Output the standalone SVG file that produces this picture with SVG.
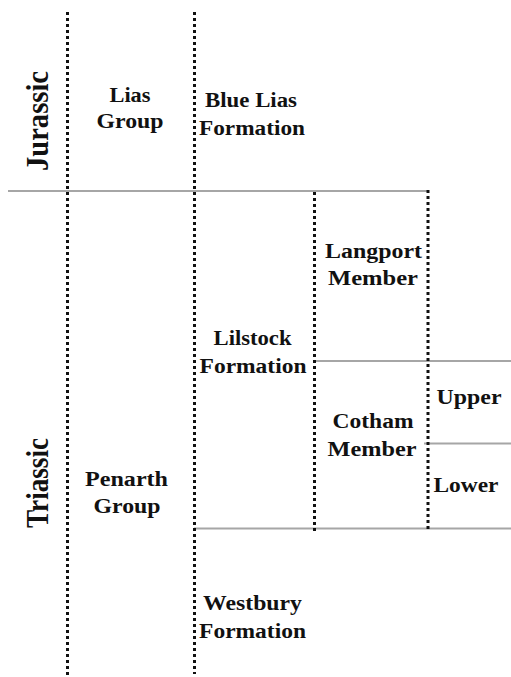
<svg xmlns="http://www.w3.org/2000/svg" width="511" height="677" viewBox="0 0 511 677">
  <style>
    .bg { fill: #ffffff; }
    .dot { stroke: #111111; stroke-width: 3; stroke-dasharray: 3 3; fill: none; }
    .rule { stroke: #a6a6a6; stroke-width: 2; fill: none; }
    .lbl { font-family: "Liberation Serif", "Times New Roman", serif; font-weight: bold; font-size: 20px; fill: #111111; text-anchor: middle; }
    .era { font-family: "Liberation Serif", "Times New Roman", serif; font-weight: bold; font-size: 27px; fill: #111111; text-anchor: middle; }
  </style>
  <rect class="bg" x="0" y="0" width="511" height="677"/>

  <!-- boundaries between units -->
  <g id="connectors">
    <line class="rule" x1="8" y1="191" x2="428" y2="191"/>
    <line class="rule" x1="314" y1="361" x2="511" y2="361"/>
    <line class="rule" x1="424" y1="443.5" x2="511" y2="443.5"/>
    <line class="rule" x1="194" y1="528.5" x2="511" y2="528.5"/>
    <line class="dot" x1="67.5" y1="12" x2="67.5" y2="676"/>
    <line class="dot" x1="194.5" y1="12" x2="194.5" y2="674"/>
    <line class="dot" x1="314.5" y1="192" x2="314.5" y2="531"/>
    <line class="dot" x1="428" y1="190" x2="428" y2="529"/>
  </g>

  <!-- periods (vertical, read bottom to top) -->
  <g id="jurassic">
    <text class="era" transform="translate(48,121) scale(1.15,1) rotate(-90)" textLength="100" lengthAdjust="spacingAndGlyphs">Jurassic</text>
  </g>
  <g id="triassic">
    <text class="era" transform="translate(48,483) scale(1.15,1) rotate(-90)" textLength="90" lengthAdjust="spacingAndGlyphs">Triassic</text>
  </g>

  <!-- labels are set in wide bold serif: each line is stretched 1.15x horizontally -->
  <g id="lias-group">
    <text class="lbl" transform="translate(130,102) scale(1.15,1)" textLength="35.7" lengthAdjust="spacingAndGlyphs">Lias</text>
    <text class="lbl" transform="translate(130,128) scale(1.15,1)" textLength="58.3" lengthAdjust="spacingAndGlyphs">Group</text>
  </g>
  <g id="penarth-group">
    <text class="lbl" transform="translate(126.5,486) scale(1.15,1)" textLength="72.2" lengthAdjust="spacingAndGlyphs">Penarth</text>
    <text class="lbl" transform="translate(127,513) scale(1.15,1)" textLength="58.3" lengthAdjust="spacingAndGlyphs">Group</text>
  </g>

  <g id="blue-lias-formation">
    <text class="lbl" transform="translate(251,107) scale(1.15,1)" textLength="80" lengthAdjust="spacingAndGlyphs">Blue Lias</text>
    <text class="lbl" transform="translate(252,135) scale(1.15,1)" textLength="92.2" lengthAdjust="spacingAndGlyphs">Formation</text>
  </g>
  <g id="lilstock-formation">
    <text class="lbl" transform="translate(252.5,345) scale(1.15,1)" textLength="67.8" lengthAdjust="spacingAndGlyphs">Lilstock</text>
    <text class="lbl" transform="translate(253,373) scale(1.15,1)" textLength="93" lengthAdjust="spacingAndGlyphs">Formation</text>
  </g>
  <g id="westbury-formation">
    <text class="lbl" transform="translate(252.5,610) scale(1.15,1)" textLength="86" lengthAdjust="spacingAndGlyphs">Westbury</text>
    <text class="lbl" transform="translate(252.5,638) scale(1.15,1)" textLength="93" lengthAdjust="spacingAndGlyphs">Formation</text>
  </g>

  <g id="langport-member">
    <text class="lbl" transform="translate(373.5,258) scale(1.15,1)" textLength="84.3" lengthAdjust="spacingAndGlyphs">Langport</text>
    <text class="lbl" transform="translate(373,285) scale(1.15,1)" textLength="78.3" lengthAdjust="spacingAndGlyphs">Member</text>
  </g>
  <g id="cotham-member">
    <text class="lbl" transform="translate(373,428) scale(1.15,1)" textLength="70.4" lengthAdjust="spacingAndGlyphs">Cotham</text>
    <text class="lbl" transform="translate(372,456) scale(1.15,1)" textLength="77.4" lengthAdjust="spacingAndGlyphs">Member</text>
  </g>

  <g id="upper">
    <text class="lbl" transform="translate(469,404) scale(1.15,1)" textLength="56.5" lengthAdjust="spacingAndGlyphs">Upper</text>
  </g>
  <g id="lower">
    <text class="lbl" transform="translate(466,492) scale(1.15,1)" textLength="56.5" lengthAdjust="spacingAndGlyphs">Lower</text>
  </g>
</svg>
